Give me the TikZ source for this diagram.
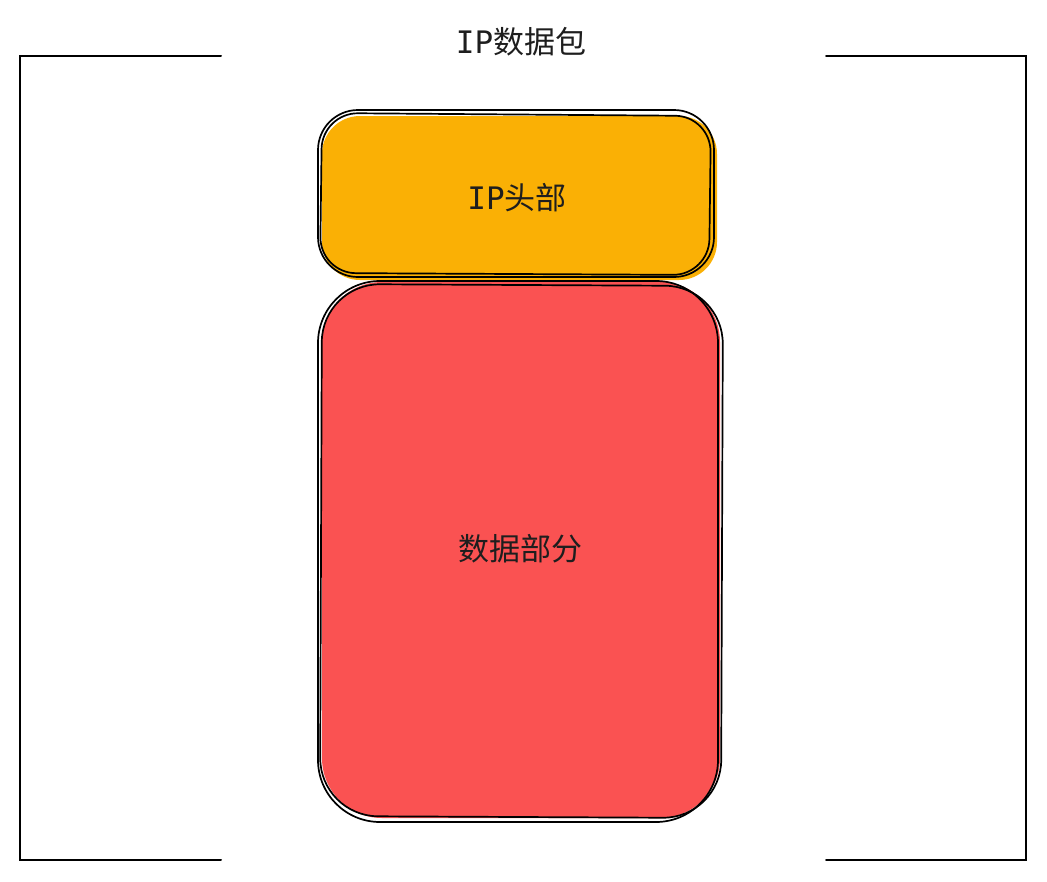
\documentclass[tikz,border=0pt]{standalone}
\usepackage{fontspec}
\newfontfamily\cjk{Noto Sans CJK SC}
\newfontfamily\mono{DejaVu Sans Mono}
\definecolor{hdr}{HTML}{FAB005}
\definecolor{dat}{HTML}{FA5252}
\definecolor{ink}{HTML}{1E1E1E}
\tikzset{
  frameline/.style={draw=black, line width=2pt, line cap=round},
  sketch/.style={draw=black, line width=1.7pt},
  lbl/.style={text=ink, font=\fontsize{31}{34}\selectfont, inner sep=0pt}
}
\begin{document}
\begin{tikzpicture}[x=1pt,y=-1pt]
\useasboundingbox (0,0) rectangle (1047,881);
% frame
\coordinate (tl) at (20,56);
\coordinate (tlE) at (221,56);
\coordinate (bl) at (20,860);
\coordinate (blE) at (221,860);
\coordinate (tr) at (1026,56);
\coordinate (trE) at (826,56);
\coordinate (br) at (1026,860);
\coordinate (brE) at (826,860);
\draw[frameline] (tlE) -- (tl) -- (bl) -- (blE);
\draw[frameline] (trE) -- (tr) -- (br) -- (brE);
\node[lbl] (title) at (521,42) {{\mono IP}{\cjk 数据包}};
% header box
\fill[hdr, rounded corners=38pt] (322,116) rectangle (717,280);
\draw[sketch, rounded corners=40pt] (318,110) rectangle (714,277);
\draw[sketch, rounded corners=36pt] (322,113) -- (711,116) -- (709,275) -- (320,273) -- cycle;
\node[lbl] (hdrtxt) at (517,198) {{\mono IP}{\cjk 头部}};
% data box
\fill[dat, rounded corners=60pt] (322,282) rectangle (720,818);
\draw[sketch, rounded corners=62pt] (318,281) rectangle (718,822);
\draw[sketch, rounded corners=58pt] (322,284) -- (723,286) -- (721,818) -- (320,816) -- cycle;
\node[lbl] (dattxt) at (520,549) {\cjk 数据部分};
\end{tikzpicture}
\end{document}
